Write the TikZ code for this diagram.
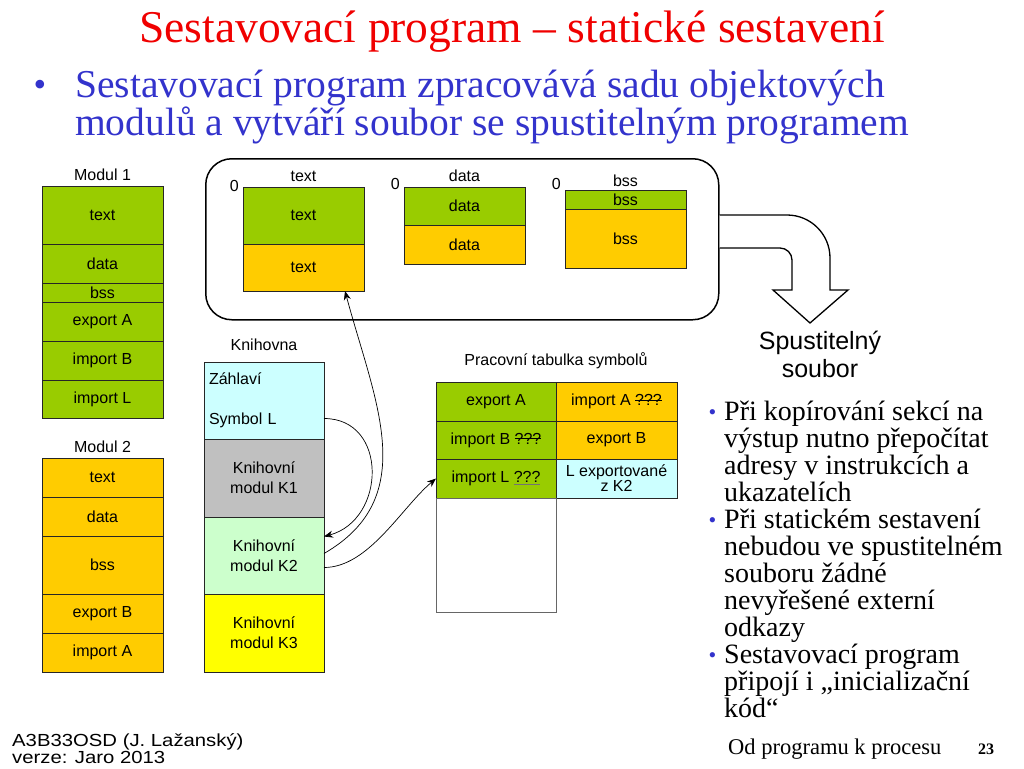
\documentclass[tikz,border=0pt]{standalone}
\usepackage{fontspec}
\setmainfont{Liberation Serif}
\setsansfont{Liberation Sans}
\newfontfamily\widesans[FakeStretch=1.16]{Liberation Sans}
\usetikzlibrary{positioning,calc,arrows.meta}
\definecolor{modgreen}{RGB}{153,204,0}
\definecolor{modorange}{RGB}{255,204,0}
\definecolor{libcyan}{RGB}{204,255,255}
\definecolor{libgray}{RGB}{192,192,192}
\definecolor{libmint}{RGB}{204,255,204}
\definecolor{libyellow}{RGB}{255,255,0}
\definecolor{titlered}{RGB}{240,0,0}
\definecolor{introblue}{RGB}{51,51,204}
\newcommand{\bul}{\llap{\textcolor{introblue}{\fontsize{22}{22}\selectfont\raisebox{1pt}{•}}\hspace{8pt}}}
\newlength{\marklen}
\newcommand{\struck}[1]{\settowidth{\marklen}{#1}\rlap{#1}\rule[0.32em]{\marklen}{0.8pt}}
\newcommand{\undermark}[1]{\settowidth{\marklen}{#1}\rlap{#1}\textcolor{black!55}{\rule[-2.5pt]{\marklen}{1.2pt}}}

\begin{document}
\begin{tikzpicture}[x=1pt, y=-1pt,
  seg/.style={draw=black!85, line width=0.7pt, minimum width=121pt, minimum height=#1, inner sep=0pt, outer sep=0pt, align=center, font=\sffamily\fontsize{16}{18}\selectfont},
  lab/.style={inner sep=1pt, font=\sffamily\fontsize{16}{18}\selectfont},
  arr/.style={-{Stealth[length=9pt, width=7pt]}, line width=0.7pt}]
\useasboundingbox (0,0) rectangle (1024,768);

% title and intro
\node[text=titlered, font=\fontsize{45.5}{48}\selectfont] (title) at (512,32) {Sestavovací program – statické sestavení};
\node[text=introblue, font=\fontsize{39.5}{37}\selectfont, anchor=north west, align=left, inner sep=0pt] (intro) at (75,70) {Sestavovací program zpracovává sadu objektových\\modulů a vytváří soubor se spustitelným programem};
\node[text=introblue, font=\fontsize{36}{36}\selectfont, inner sep=0pt] (dot) at (40,88) {•};

% Modul 1
\node[seg=58pt, fill=modgreen, anchor=north west] (m1a) at (42,186) {text};
\node[seg=39pt, fill=modgreen, below=0pt of m1a] (m1b) {data};
\node[seg=19pt, fill=modgreen, below=0pt of m1b] (m1c) {bss};
\node[seg=39pt, fill=modgreen, below=0pt of m1c] (m1d) {export A};
\node[seg=39pt, fill=modgreen, below=0pt of m1d] (m1e) {import B};
\node[seg=38pt, fill=modgreen, below=0pt of m1e] (m1f) {import L};
\node[lab, above=4pt of m1a] (m1lab) {Modul 1};

% Modul 2
\node[seg=39pt, fill=modorange, anchor=north west] (m2a) at (42,458) {text};
\node[seg=39pt, fill=modorange, below=0pt of m2a] (m2b) {data};
\node[seg=58pt, fill=modorange, below=0pt of m2b] (m2c) {bss};
\node[seg=39pt, fill=modorange, below=0pt of m2c] (m2d) {export B};
\node[seg=39pt, fill=modorange, below=0pt of m2d] (m2e) {import A};
\node[lab, above=4pt of m2a] (m2lab) {Modul 2};

% Knihovna
\node[seg=77pt, minimum width=120pt, fill=libcyan, anchor=north west, text width=110pt, align=left] (zah) at (204,362) {Záhlaví\\[22pt]Symbol L};
\node[seg=78pt, minimum width=120pt, fill=libgray, below=0pt of zah, font=\sffamily\fontsize{16}{20}\selectfont] (k1) {Knihovní\\modul K1};
\node[seg=77pt, minimum width=120pt, fill=libmint, below=0pt of k1, font=\sffamily\fontsize{16}{20}\selectfont] (k2) {Knihovní\\modul K2};
\node[seg=78pt, minimum width=120pt, fill=libyellow, below=0pt of k2, font=\sffamily\fontsize{16}{20}\selectfont] (k3) {Knihovní\\modul K3};
\node[lab, above=10pt of zah] (klab) {Knihovna};

% vystupni soubor
\node[draw, line width=1.5pt, rounded corners=26pt, minimum width=513pt, minimum height=161pt, anchor=north west, inner sep=0pt] (out) at (205,158) {};
\node[seg=57pt, fill=modgreen, anchor=north west] (tx1) at (243,187) {text};
\node[seg=47pt, fill=modorange, below=0pt of tx1] (tx2) {text};
\node[seg=38pt, fill=modgreen, anchor=north west] (da1) at (404,187) {data};
\node[seg=39pt, fill=modorange, below=0pt of da1] (da2) {data};
\node[seg=19pt, fill=modgreen, anchor=north west] (bs1) at (565,190) {bss};
\node[seg=59pt, fill=modorange, below=0pt of bs1] (bs2) {bss};
\node[lab, above=4pt of tx1] {text};
\node[lab, above=4pt of da1] {data};
\node[lab, above=2pt of bs1] {bss};
\node[lab, anchor=east] at ([xshift=-3pt, yshift=1pt]tx1.north west) {0};
\node[lab, anchor=east] at ([xshift=-3pt, yshift=3pt]da1.north west) {0};
\node[lab, anchor=east] at ([xshift=-3pt, yshift=6pt]bs1.north west) {0};

% velka sipka ven
\draw[line width=1.3pt, fill=white, line join=miter] (out.east |- 0,215) -- (787,215) arc[start angle=-90, end angle=0, radius=43] -- (830,290) -- (848,290) -- (810,323) -- (773,290) -- (792,290) -- (792,260) arc[start angle=0, end angle=-90, radius=12] -- (out.east |- 0,248);
\node[align=center, font=\sffamily\fontsize{25}{28}\selectfont] (exe) at (820,354) {Spustitelný\\soubor};

% tabulka symbolu
\node[seg=39pt, minimum width=120pt, fill=modgreen, anchor=north west] (s1) at (436,382) {export A};
\node[seg=39pt, fill=modorange, right=0pt of s1] (s2) {import A \struck{???}};
\node[seg=38pt, minimum width=120pt, fill=modgreen, below=0pt of s1] (s3) {import B \struck{???}};
\node[seg=38pt, fill=modorange, right=0pt of s3] (s4) {export B};
\node[seg=39pt, minimum width=120pt, fill=modgreen, below=0pt of s3] (s5) {import L \undermark{???}};
\node[seg=39pt, fill=libcyan, right=0pt of s5, font=\sffamily\fontsize{16}{15}\selectfont] (s6) {L exportované\\z K2};
\node[seg=114pt, minimum width=120pt, draw=black!60, fill=white, below=0pt of s5] (s7) {};
\node[lab, above=12pt of s1.north east] (slab) {Pracovní tabulka symbolů};

% odkazy
\draw[arr] ([yshift=-18pt]zah.east) to[out=0, in=15, looseness=1.4] ([yshift=19pt]k2.east);
\draw[arr] ([yshift=2pt]k2.east) to[out=30, in=-75, looseness=1.1] ([xshift=-19pt]tx2.south east);
\draw[arr] ([yshift=-12pt]k2.east) to[out=0, in=-140, looseness=0.8] (s5.west);

% poznamky vpravo
\node[anchor=north west, align=left, inner sep=0pt, font=\fontsize{28}{27}\selectfont] (notes) at (724,401) {\bul Při kopírování sekcí na\\výstup nutno přepočítat\\adresy v instrukcích a\\ukazatelích\\\bul Při statickém sestavení\\nebudou ve spustitelném\\souboru žádné\\nevyřešené externí\\odkazy\\\bul Sestavovací program\\připojí i „inicializační\\kód“};

% paticka
\node[anchor=west, align=left, inner sep=0pt, font=\widesans\fontsize{17.5}{17}\selectfont] (foot) at (12,749) {A3B33OSD (J. Lažanský)\\verze: Jaro 2013};
\node[anchor=west, inner sep=0pt, font=\fontsize{22.5}{24}\selectfont] (chap) at (728,749) {Od programu k procesu};
\node[inner sep=0pt, font=\bfseries\fontsize{16}{18}\selectfont] (page) at (986,749) {23};
\end{tikzpicture}
\end{document}
